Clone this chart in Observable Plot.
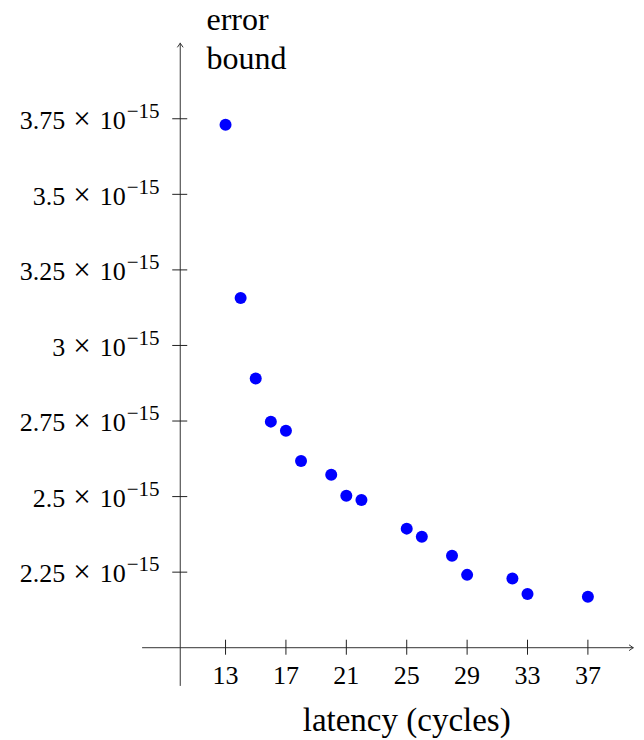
<!DOCTYPE html>
<html><head><meta charset="utf-8">
<script src="https://cdn.jsdelivr.net/npm/d3@7"></script>
<script src="https://cdn.jsdelivr.net/npm/@observablehq/plot@0.6"></script>
<style>
body{margin:0;background:#fff;}
svg{display:block;}
</style></head><body><div id="chart"></div>
<script>
// data (error bound in units of 10^-15)
const latency = [13,14,15,16,17,18,20,21,22,25,26,28,29,32,33,37];
const errorBound = [3.730,3.157,2.891,2.748,2.718,2.618,2.572,2.503,2.489,2.394,2.367,2.304,2.241,2.229,2.178,2.169];
const xTicks = [13,17,21,25,29,33,37];
const yTicks = [2.25,2.5,2.75,3,3.25,3.5,3.75];
const yTickLabels = ["2.25","2.5","2.75","3","3.25","3.5","3.75"];
const yExponent = "−15";
const xLabel = "latency (cycles)";
const yLabel = "error\nbound";
const xExtent = [7.5, 40];
const yExtent = [1.875, 4.0];
const xOrigin = 10, yOrigin = 2;

const data = latency.map((x,i)=>({latency:x, bound:errorBound[i]}));
const fontFamily = "'Liberation Serif', serif";
const axisColor = "#333";

const chart = Plot.plot({
  width: 644, height: 740,
  marginLeft: 142, marginRight: 11.3, marginTop: 42.7, marginBottom: 55,
  style: {fontFamily, background: "#fff", color: "#000", overflow: "visible"},
  x: {domain: xExtent, axis: null},
  y: {domain: yExtent, axis: null},
  marks: [
    Plot.arrow([0], {x1: xExtent[0], x2: xExtent[1], y1: yOrigin, y2: yOrigin, stroke: axisColor, strokeWidth: 1, headLength: 7, headAngle: 70}),
    Plot.arrow([0], {x1: xOrigin, x2: xOrigin, y1: yExtent[0], y2: yExtent[1], stroke: axisColor, strokeWidth: 1, headLength: 7, headAngle: 70}),
    Plot.ruleX(xTicks, {x: d=>d, y1: yOrigin, y2: yOrigin, insetTop: -7.5, insetBottom: -7.5, stroke: "#222", strokeWidth: 1}),
    Plot.ruleY(yTicks, {y: d=>d, x1: xOrigin, x2: xOrigin, insetLeft: -7.5, insetRight: -7.5, stroke: "#222", strokeWidth: 1}),
    Plot.text(xTicks, {x: d=>d, y: yOrigin, text: d=>String(d), dy: 28.4, fontSize: 26, fill: "#000"}),
    Plot.text(yTicks, {x: xOrigin, y: d=>d, text: (d,i)=>yTickLabels[i], dx: -20.7, dy: 2, textAnchor: "end", fontSize: 26, fill: "#000", ariaLabel: "ytl"}),
    Plot.text([xLabel], {x: 25, y: yOrigin, text: d=>d, dy: 73, fontSize: 33, fill: "#000"}),
    Plot.text([yLabel], {frameAnchor: "top-left", text: d=>d, dx: 64, dy: -5.9, textAnchor: "start", lineAnchor: "middle", lineHeight: 38.3/32, fontSize: 32, fill: "#000"}),
    Plot.dot(data, {x: "latency", y: "bound", r: 6, fill: "#0000ff", stroke: "none"})
  ]
});

const ySet = new Set(yTickLabels);
d3.select(chart).selectAll('text').filter(function(){
  return this.getAttribute("aria-label") === "ytl" || (this.parentNode && this.parentNode.getAttribute && this.parentNode.getAttribute("aria-label") === "ytl") || (this.getAttribute("text-anchor") === "end" && ySet.has(this.textContent)) || (this.parentNode && this.parentNode.getAttribute && this.parentNode.getAttribute("text-anchor") === "end" && ySet.has(this.textContent));
}).each(function(){
  const m = this.textContent;
  const t = d3.select(this);
  t.text(null);
  t.append("tspan").text(m);
  t.append("tspan").attr("dx", 8).attr("font-size", 31).text("×");
  t.append("tspan").attr("dx", 9).text("10");
  t.append("tspan").attr("dx", 1).attr("dy", -11).attr("font-size", 21).text(yExponent);
});

document.getElementById("chart").appendChild(chart);
</script></body></html>
